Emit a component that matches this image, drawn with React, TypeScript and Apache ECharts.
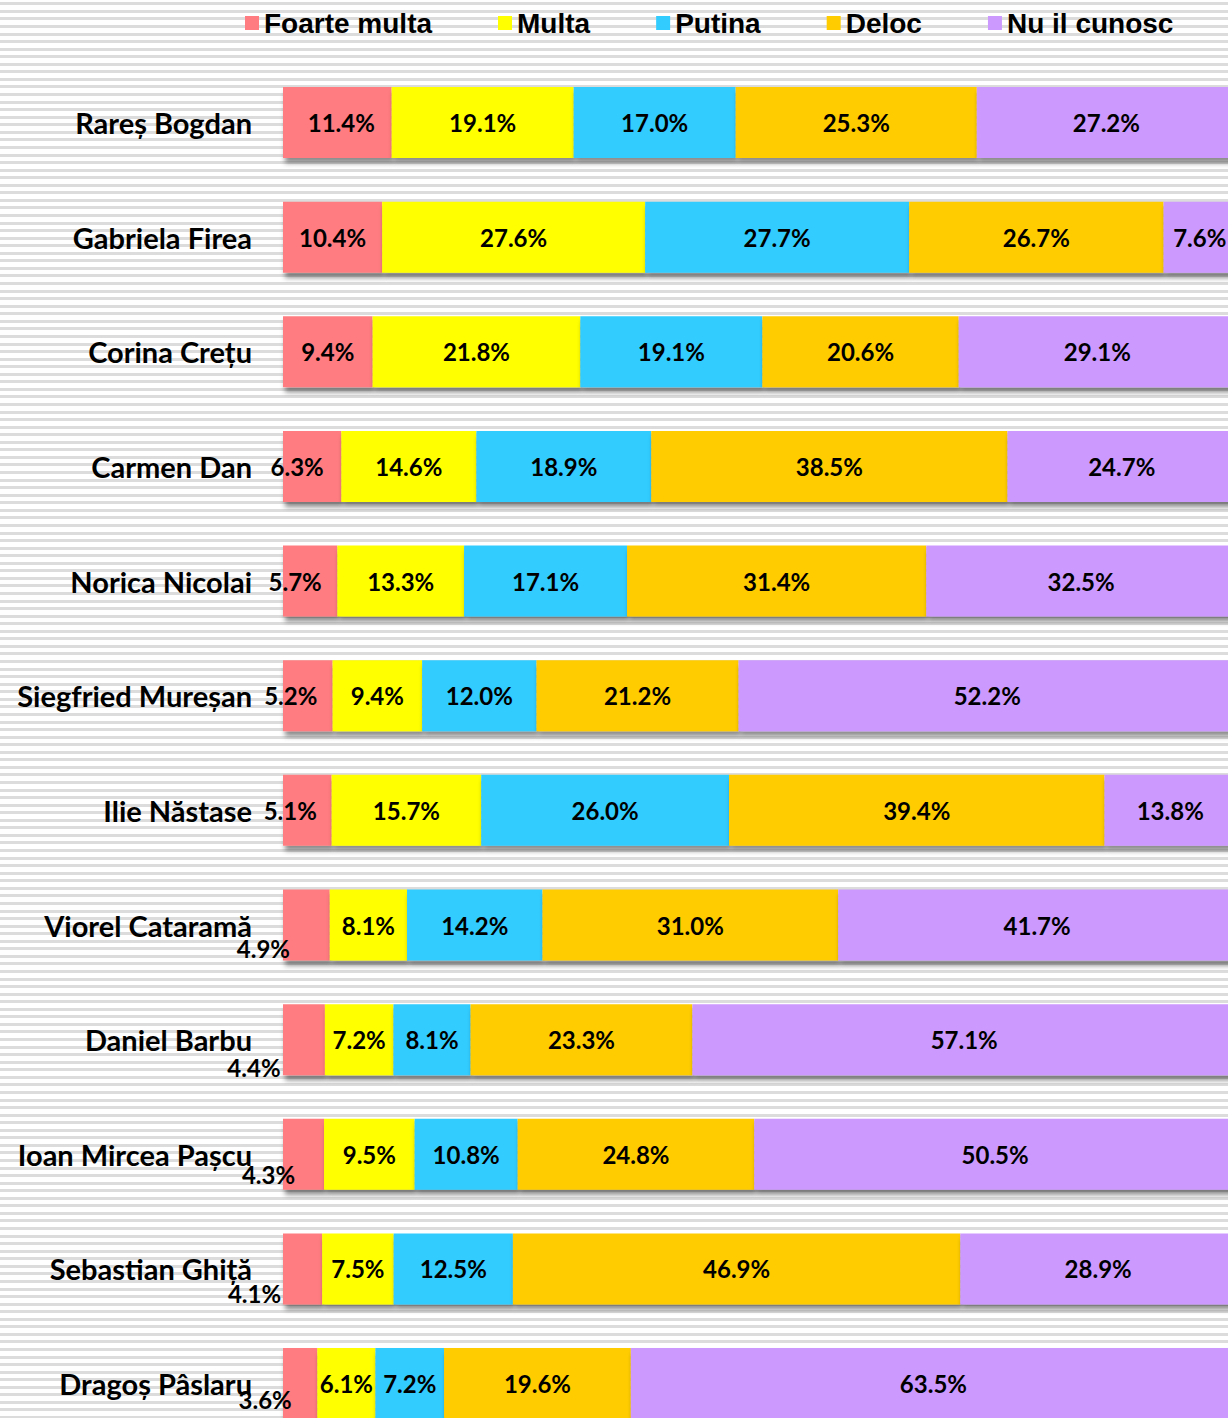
import React, { useEffect, useRef } from "react";
import * as echarts from "echarts";

const categories = [
  "Rareș Bogdan",
  "Gabriela Firea",
  "Corina Crețu",
  "Carmen Dan",
  "Norica Nicolai",
  "Siegfried Mureșan",
  "Ilie Năstase",
  "Viorel Cataramă",
  "Daniel Barbu",
  "Ioan Mircea Pașcu",
  "Sebastian Ghiță",
  "Dragoș Pâslaru",
];

const seriesNames = ["Foarte multa", "Multa", "Putina", "Deloc", "Nu il cunosc"];

const foarteMulta = [11.4, 10.4, 9.4, 6.3, 5.7, 5.2, 5.1, 4.9, 4.4, 4.3, 4.1, 3.6];
const multa = [19.1, 27.6, 21.8, 14.6, 13.3, 9.4, 15.7, 8.1, 7.2, 9.5, 7.5, 6.1];
const putina = [17.0, 27.7, 19.1, 18.9, 17.1, 12.0, 26.0, 14.2, 8.1, 10.8, 12.5, 7.2];
const deloc = [25.3, 26.7, 20.6, 38.5, 31.4, 21.2, 39.4, 31.0, 23.3, 24.8, 46.9, 19.6];
const nuIlCunosc = [27.2, 7.6, 29.1, 24.7, 32.5, 52.2, 13.8, 41.7, 57.1, 50.5, 28.9, 63.5];

const seriesValues = [foarteMulta, multa, putina, deloc, nuIlCunosc];
const colors = ["#FF7C80", "#FFFF00", "#33CCFF", "#FFCC00", "#CC99FF"];

// label nudges for the narrow first segment (style only)
const firstLabelOffsets: [number, number][] = [
  [4, 0], [0, 0], [0, 0], [-15, 0], [-15, 0], [-17, 0], [-17, 0],
  [-43, 23], [-50, 28], [-35, 20], [-48, 25], [-35, 16],
];

export default function App() {
  const ref = useRef<HTMLDivElement>(null);

  useEffect(() => {
    if (!ref.current) return;
    const chart = echarts.init(ref.current, undefined, { renderer: "svg" });
    const totals = categories.map((_, i) =>
      seriesValues.reduce((s, arr) => s + arr[i], 0)
    );

    const series = seriesValues.map((arr, si) => ({
      name: seriesNames[si],
      type: "bar",
      stack: "total",
      barWidth: 71,
      itemStyle: {
        color: colors[si],
        shadowColor: "rgba(0,0,0,0.45)",
        shadowBlur: 5,
        shadowOffsetX: 2,
        shadowOffsetY: 5,
      },
      label: {
        show: true,
        position: "inside",
        color: "#000",
        fontFamily: "Lato",
        fontWeight: "bold",
        fontSize: 24,
        formatter: (p: any) => arr[p.dataIndex].toFixed(1) + "%",
      },
      data: arr.map((v, i) => {
        const item: any = { value: (v / totals[i]) * 100 };
        if (si === 0) item.label = { offset: firstLabelOffsets[i] };
        return item;
      }),
    }));

    chart.setOption({
      animation: false,
      backgroundColor: "transparent",
      legend: {
        data: seriesNames,
        left: 245,
        top: 9,
        padding: 0,
        itemWidth: 14,
        itemHeight: 14,
        itemGap: 66,
        icon: "rect",
        textStyle: {
          fontFamily: "Liberation Sans",
          fontWeight: "bold",
          fontSize: 28,
          color: "#000",
        },
      },
      grid: {
        left: 283,
        top: 65.2,
        width: 953,
        height: 1375.7,
        containLabel: false,
      },
      xAxis: {
        type: "value",
        min: 0,
        max: 100,
        show: false,
        splitLine: { show: false },
      },
      yAxis: {
        type: "category",
        data: categories,
        inverse: true,
        axisLine: { show: false },
        axisTick: { show: false },
        axisLabel: {
          margin: 31,
          color: "#000",
          fontFamily: "Lato",
          fontWeight: "bold",
          fontSize: 29,
        },
      },
      series,
    });

    return () => chart.dispose();
  }, []);

  return (
    <div
      style={{
        position: "absolute",
        left: 0,
        top: 0,
        width: 1228,
        height: 1418,
        overflow: "hidden",
        backgroundColor: "#fff",
        backgroundImage:
          "repeating-linear-gradient(to bottom, #fff 0px, #fff 2.3px, #dcdcdc 2.3px, #dcdcdc 5.3px, #fff 5.3px, #fff 7.56px)",
      }}
    >
      <div ref={ref} style={{ width: 1250, height: 1460 }} />
    </div>
  );
}
